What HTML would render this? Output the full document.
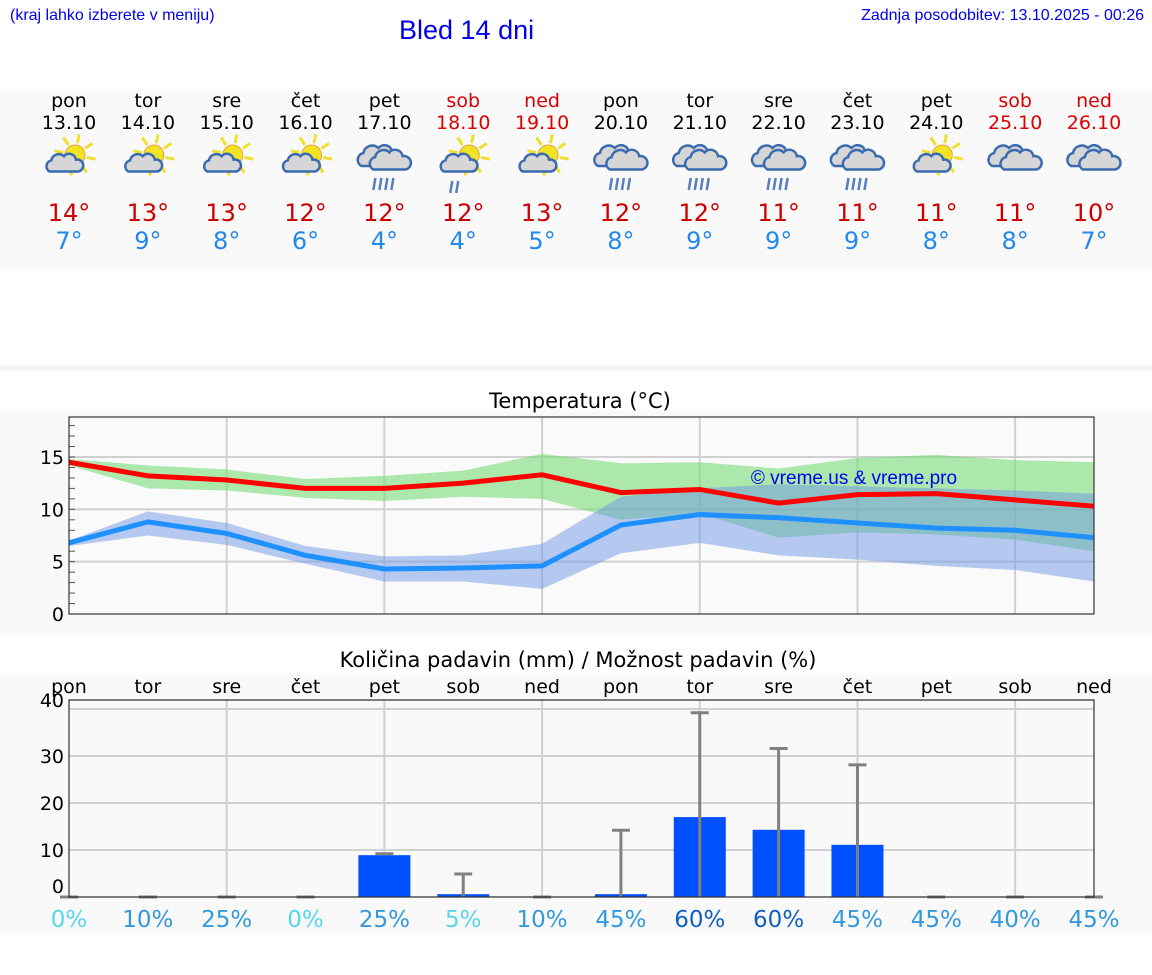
<!DOCTYPE html>
<html><head><meta charset="utf-8">
<style>
body{margin:0;width:1152px;height:975px;background:#fff;font-family:"DejaVu Sans","Liberation Sans",sans-serif;position:relative;overflow:hidden}
.a{position:absolute;white-space:nowrap}
</style></head>
<body>
<div class="a" style="left:10px;top:7px;font-size:16px;color:#0000ee;font-family:'Liberation Sans',sans-serif">(kraj lahko izberete v meniju)</div>
<div class="a" style="left:399px;top:15px;font-size:27px;color:#0000ee;font-family:'Liberation Sans',sans-serif">Bled 14 dni</div>
<div class="a" style="right:8px;top:7px;font-size:16px;color:#0000ee;font-family:'Liberation Sans',sans-serif">Zadnja posodobitev: 13.10.2025 - 00:26</div>
<svg id="s" width="1152" height="975" style="position:absolute;left:0;top:0" font-family="DejaVu Sans, Liberation Sans, sans-serif"></svg>
<script>
const days=["pon","tor","sre","čet","pet","sob","ned","pon","tor","sre","čet","pet","sob","ned"];
const dates=["13.10","14.10","15.10","16.10","17.10","18.10","19.10","20.10","21.10","22.10","23.10","24.10","25.10","26.10"];
const weekend=[0,0,0,0,0,1,1,0,0,0,0,0,1,1];
const icons=["ps","ps","ps","ps","r","psr","ps","r","r","r","r","ps","c","c"];
const hiLabel=[14,13,13,12,12,12,13,12,12,11,11,11,11,10];
const loLabel=[7,9,8,6,4,4,5,8,9,9,9,8,8,7];
const tMax=[14.5,13.2,12.8,12.0,12.0,12.5,13.3,11.6,11.9,10.6,11.4,11.5,10.9,10.3];
const tMaxHi=[14.8,14.2,13.8,12.9,13.2,13.7,15.3,14.4,14.5,13.9,14.9,15.2,14.7,14.5];
const tMaxLo=[14.2,12.0,11.8,11.1,10.8,11.2,11.0,9.0,9.6,7.3,7.8,7.6,7.1,6.0];
const tMin=[6.8,8.8,7.7,5.6,4.3,4.4,4.6,8.5,9.5,9.2,8.7,8.2,8.0,7.3];
const tMinHi=[7.0,9.8,8.7,6.5,5.5,5.6,6.7,11.2,12.0,12.4,12.2,12.0,11.8,11.5];
const tMinLo=[6.5,7.5,6.6,4.8,3.1,3.1,2.4,5.8,6.8,5.6,5.2,4.6,4.2,3.1];
const rain=[0,0,0,0,8.9,0.6,0,0.6,17,14.3,11.1,0,0,0];
const rainMax=[0,0,0,0,9.2,4.9,0,14.2,39.2,31.6,28.1,0,0,0];
const chance=[0,10,25,0,25,5,10,45,60,60,45,45,40,45];
const tempTicks=[0,5,10,15];
const rainTicks=[10,20,30,40];

const S=document.getElementById('s'),NS="http://www.w3.org/2000/svg";
function mk(t,a,txt){const e=document.createElementNS(NS,t);for(const k in a)e.setAttribute(k,a[k]);if(txt!==undefined)e.textContent=txt;S.appendChild(e);return e;}
const X=i=>69+i*(1025/13);
let p=mk('rect',{x:0,y:90,width:1152,height:180,fill:'#f9f9f9'});
p=mk('rect',{x:0,y:365,width:1152,height:6,fill:'#f6f6f6'});
p=mk('rect',{x:0,y:410,width:1152,height:225,fill:'#f9f9f9'});
p=mk('rect',{x:0,y:675,width:1152,height:260,fill:'#f9f9f9'});

function cloud(g,cx,cy,s){const c=document.createElementNS(NS,'path');
c.setAttribute('d',`M${cx-17*s},${cy+10*s} a${7*s},${7*s} 0 0 1 ${2*s},${-13*s} a${9*s},${9*s} 0 0 1 ${15*s},${-5*s} a${8*s},${8*s} 0 0 1 ${14*s},${4*s} a${7*s},${7*s} 0 0 1 ${3*s},${14*s} z`);
c.setAttribute('fill','#d6d6d6');c.setAttribute('stroke','#3a6bb0');c.setAttribute('stroke-width','2.5');g.appendChild(c);}
function sun(g,cx,cy){for(let k=0;k<8;k++){const a=k*Math.PI/4+0.2;const l=document.createElementNS(NS,'line');
l.setAttribute('x1',cx+Math.cos(a)*12);l.setAttribute('y1',cy+Math.sin(a)*12);l.setAttribute('x2',cx+Math.cos(a)*21);l.setAttribute('y2',cy+Math.sin(a)*21);
l.setAttribute('stroke','#f0e030');l.setAttribute('stroke-width','3');g.appendChild(l);}
const c=document.createElementNS(NS,'circle');c.setAttribute('cx',cx);c.setAttribute('cy',cy);c.setAttribute('r',10);c.setAttribute('fill','#f2e422');c.setAttribute('stroke','#e8a040');c.setAttribute('stroke-width','1');g.appendChild(c);}
function drops(g,cx,cy,n){for(let k=0;k<n;k++){const l=document.createElementNS(NS,'line');const x=cx+(k-(n-1)/2)*6;
l.setAttribute('x1',x+1);l.setAttribute('y1',cy);l.setAttribute('x2',x-1);l.setAttribute('y2',cy+12);l.setAttribute('stroke','#5a7fc0');l.setAttribute('stroke-width','2.5');g.appendChild(l);}}

for(let i=0;i<14;i++){const x=X(i),col=weekend[i]?'#dd0000':'#000';
 let t=mk('text',{x:x,y:107,'font-size':19,'text-anchor':'middle',fill:col},days[i]);
 t=mk('text',{x:x,y:129,'font-size':19,'text-anchor':'middle',fill:col},dates[i]);
 const g=mk('g',{});
 const ic=icons[i];
 if(ic=='ps'||ic=='psr'){sun(g,x+6,155);cloud(g,x-5,163,0.85);if(ic=='psr')drops(g,x-9,181,2);}
 else{cloud(g,x-6,156,1);cloud(g,x+5,160,0.95);if(ic=='r')drops(g,x-1,178,4);}
 t=mk('text',{x:x,y:221,'font-size':24,'text-anchor':'middle',fill:'#cc0000'},hiLabel[i]+'°');
 t=mk('text',{x:x,y:249,'font-size':24,'text-anchor':'middle',fill:'#2288ee'},loLabel[i]+'°');
}
const TY=v=>614-v*(157/15);
let t=mk('text',{x:580,y:408,'font-size':21,'text-anchor':'middle',fill:'#000'},'Temperatura (°C)');
let r=mk('rect',{x:69,y:417,width:1025,height:197,fill:'#fafafa'});
for(const v of tempTicks){if(v>0){let l=mk('line',{x1:69,x2:1094,y1:TY(v),y2:TY(v),stroke:'#d0d0d0','stroke-width':2});}
 let tx=mk('text',{x:64,y:TY(v)+7,'font-size':19,'text-anchor':'end'},v);}
for(let i=2;i<14;i+=2){let l=mk('line',{x1:X(i),x2:X(i),y1:417,y2:614,stroke:'#d0d0d0','stroke-width':2});}
for(let v=1;v<19;v++){let l=mk('line',{x1:69,x2:75,y1:TY(v),y2:TY(v),stroke:'#555','stroke-width':1});}
function band(hi,lo,fill,name){let d='M'+hi.map((v,i)=>X(i)+','+TY(v)).join(' L')+' L'+lo.map((v,i)=>X(i)+','+TY(v)).reverse().join(' L')+'Z';
 let e=mk('path',{d:d,fill:fill});}
band(tMaxHi,tMaxLo,'rgba(120,220,120,0.6)','max-temp-range');
band(tMinHi,tMinLo,'rgba(110,150,230,0.5)','min-temp-range');
function line(v,c,name){let e=mk('polyline',{points:v.map((y,i)=>X(i)+','+TY(y)).join(' '),fill:'none',stroke:c,'stroke-width':5});}
line(tMax,'#ff0000','max-temp-line');line(tMin,'#1e90ff','min-temp-line');
t=mk('text',{x:854,y:484,'font-size':19,'text-anchor':'middle',fill:'#0000ee','font-family':'Liberation Sans, sans-serif'},'© vreme.us & vreme.pro');
r=mk('rect',{x:69,y:417,width:1025,height:197,fill:'none',stroke:'#333','stroke-width':1.2});
const RY=v=>897-v*4.7;
t=mk('text',{x:578,y:667,'font-size':21,'text-anchor':'middle'},'Količina padavin (mm) / Možnost padavin (%)');
for(let i=0;i<14;i++){let tx=mk('text',{x:X(i),y:693,'font-size':19,'text-anchor':'middle'},days[i]);}
for(const v of rainTicks){let l=mk('line',{x1:69,x2:1094,y1:RY(v),y2:RY(v),stroke:'#d0d0d0','stroke-width':2});
 let tx=mk('text',{x:64,y:(v==40?707:RY(v)+7),'font-size':19,'text-anchor':'end'},v);}
t=mk('text',{x:64,y:893,'font-size':19,'text-anchor':'end'},'0');
for(let i=2;i<14;i+=2){let l=mk('line',{x1:X(i),x2:X(i),y1:700,y2:897,stroke:'#d0d0d0','stroke-width':2});}
for(let i=0;i<14;i++){const x=X(i);
 if(rain[i]>0){let b=mk('rect',{x:x-26,y:RY(rain[i]),width:52,height:897-RY(rain[i]),fill:'#0050ff'});}
 if(rainMax[i]-rain[i]>1){let e=mk('line',{x1:x,x2:x,y1:RY(rainMax[i]),y2:897,stroke:'#808080','stroke-width':3});}
 let e=mk('line',{x1:x-9,x2:x+9,y1:RY(rainMax[i]),y2:RY(rainMax[i]),stroke:'#808080','stroke-width':3});
 const c=chance[i]<=5?'#55d8ea':(chance[i]>=60?'#1060c0':'#3399dd');
 let tx=mk('text',{x:x,y:927,'font-size':23,'text-anchor':'middle',fill:c},chance[i]+'%');
}
e=mk('path',{d:'M69,700 L1094,700 L1094,897 L69,897 Z',fill:'none',stroke:'#333','stroke-width':1.2});
</script>
</body></html>
